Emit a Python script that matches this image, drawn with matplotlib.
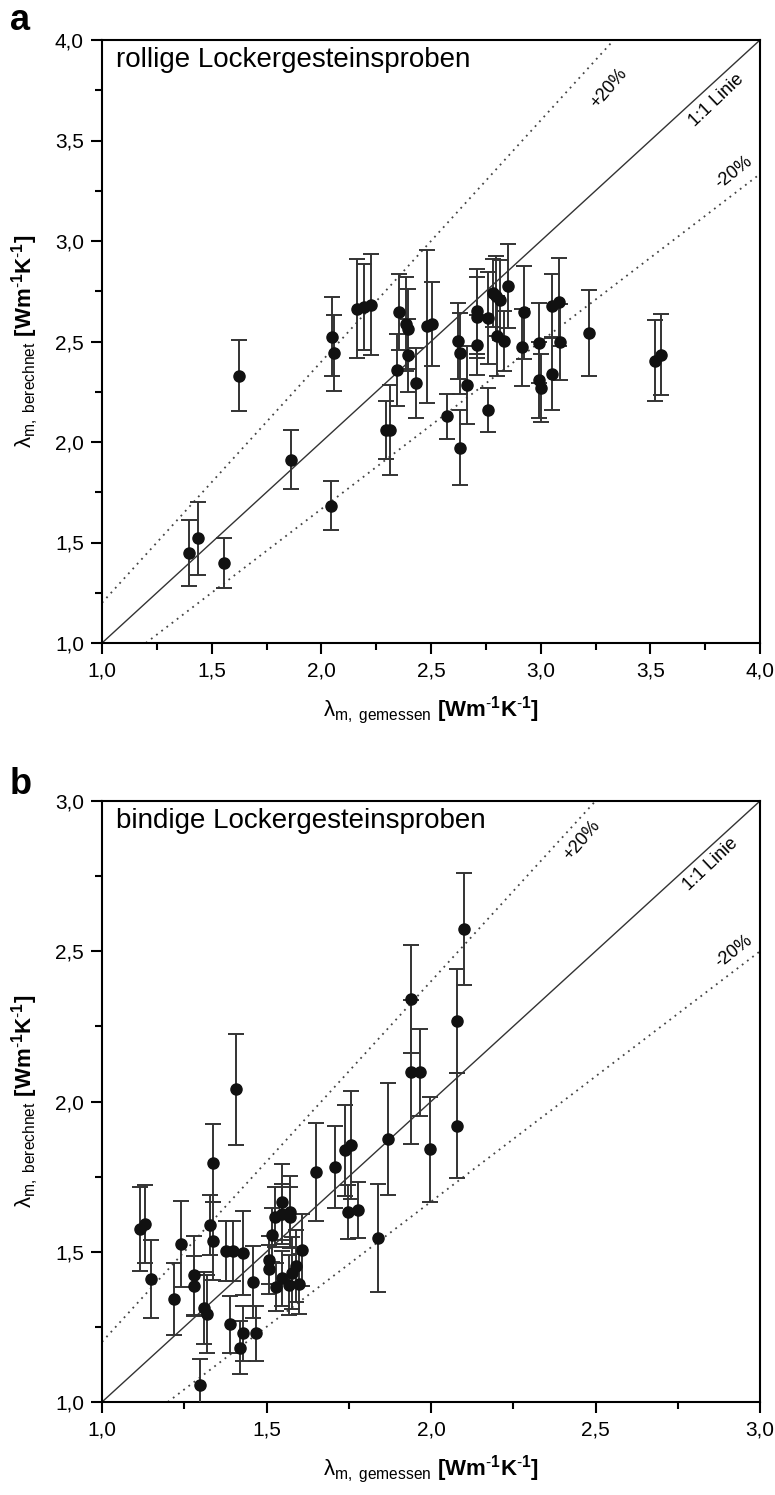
import matplotlib
matplotlib.use("Agg")
import numpy as np
import matplotlib.pyplot as plt
from matplotlib.ticker import FixedLocator, MultipleLocator

plt.rcParams['font.family'] = ['Liberation Sans', 'DejaVu Sans']
plt.rcParams['mathtext.fontset'] = 'custom'
plt.rcParams['mathtext.rm'] = 'Liberation Sans'
plt.rcParams['mathtext.it'] = 'Liberation Sans:italic'
plt.rcParams['mathtext.bf'] = 'Liberation Sans:bold'

# a: rollige Lockergesteinsproben (gemessen, berechnet, Fehler)
a_gem = [1.395, 1.436, 1.555, 1.624, 1.863, 2.044, 2.047, 2.056, 2.162, 2.193,
         2.225, 2.297, 2.315, 2.344, 2.353, 2.385, 2.394, 2.394, 2.433, 2.484,
         2.504, 2.571, 2.623, 2.632, 2.632, 2.662, 2.712, 2.712, 2.712, 2.762,
         2.762, 2.783, 2.798, 2.801, 2.813, 2.834, 2.852, 2.913, 2.922, 2.992,
         2.992, 3.001, 3.050, 3.050, 3.083, 3.090, 3.220, 3.520, 3.549]
a_ber = [1.447, 1.520, 1.398, 2.330, 1.912, 1.682, 2.523, 2.443, 2.663, 2.671,
         2.683, 2.059, 2.059, 2.359, 2.648, 2.587, 2.562, 2.431, 2.294, 2.575,
         2.587, 2.127, 2.504, 2.441, 1.972, 2.284, 2.650, 2.620, 2.484, 2.617,
         2.160, 2.741, 2.727, 2.526, 2.706, 2.504, 2.777, 2.471, 2.645, 2.493,
         2.307, 2.269, 2.678, 2.340, 2.696, 2.496, 2.542, 2.405, 2.435]
a_err = [0.165, 0.180, 0.125, 0.175, 0.147, 0.122, 0.197, 0.190, 0.245, 0.215,
         0.250, 0.145, 0.225, 0.180, 0.190, 0.235, 0.200, 0.180, 0.174, 0.380,
         0.210, 0.110, 0.190, 0.200, 0.185, 0.195, 0.210, 0.200, 0.150, 0.230,
         0.110, 0.170, 0.200, 0.200, 0.200, 0.150, 0.210, 0.190, 0.230, 0.200,
         0.190, 0.170, 0.160, 0.180, 0.220, 0.190, 0.215, 0.200, 0.200]

# b: bindige Lockergesteinsproben
b_gem = [1.117, 1.131, 1.148, 1.219, 1.240, 1.279, 1.279, 1.299, 1.310, 1.320,
         1.329, 1.338, 1.338, 1.377, 1.399, 1.389, 1.408, 1.418, 1.429, 1.430,
         1.458, 1.469, 1.509, 1.509, 1.518, 1.527, 1.528, 1.547, 1.547, 1.548,
         1.569, 1.571, 1.571, 1.579, 1.591, 1.599, 1.609, 1.649, 1.708, 1.738,
         1.758, 1.749, 1.778, 1.839, 1.869, 1.938, 1.938, 1.968, 1.998, 2.079,
         2.079, 2.100]
b_ber = [1.575, 1.591, 1.410, 1.342, 1.526, 1.421, 1.386, 1.057, 1.313, 1.292,
         1.589, 1.537, 1.796, 1.503, 1.503, 1.259, 2.041, 1.180, 1.497, 1.228,
         1.400, 1.228, 1.472, 1.441, 1.556, 1.617, 1.383, 1.665, 1.626, 1.411,
         1.389, 1.633, 1.617, 1.430, 1.453, 1.392, 1.506, 1.766, 1.782, 1.837,
         1.856, 1.632, 1.639, 1.545, 1.875, 2.341, 2.097, 2.097, 1.841, 2.267,
         1.920, 2.575]
b_err = [0.140, 0.130, 0.130, 0.120, 0.143, 0.130, 0.100, 0.085, 0.120, 0.130,
         0.100, 0.130, 0.130, 0.100, 0.100, 0.095, 0.185, 0.088, 0.140, 0.090,
         0.120, 0.090, 0.080, 0.080, 0.090, 0.100, 0.080, 0.127, 0.100, 0.090,
         0.100, 0.120, 0.100, 0.120, 0.120, 0.100, 0.120, 0.163, 0.136, 0.150,
         0.180, 0.090, 0.092, 0.180, 0.185, 0.180, 0.240, 0.145, 0.175, 0.173,
         0.175, 0.187]

a_ticks = [1.0, 1.5, 2.0, 2.5, 3.0, 3.5, 4.0]
b_ticks = [1.0, 1.5, 2.0, 2.5, 3.0]

xlab = 'λ$_{\\mathrm{m,\\ gemessen}}$ $\\mathbf{[Wm^{\\text{-}1}K^{\\text{-}1}]}$'
ylab = 'λ$_{\\mathrm{m,\\ berechnet}}$ $\\mathbf{[Wm^{\\text{-}1}K^{\\text{-}1}]}$'

fig = plt.figure(figsize=(7.75, 14.95), dpi=100)
ax_a = fig.add_axes([102/775, 1-643/1495, 658/775, 603/1495])
ax_b = fig.add_axes([102/775, 1-1402/1495, 658/775, 601/1495])


def panel(ax, gem, ber, err, ticks, title, pos):
    lo, hi = ticks[0], ticks[-1]
    ax.plot([lo, hi], [lo, hi], color='#333333', lw=1.0, zorder=1)
    ax.plot([lo, hi/1.2], [lo*1.2, hi], color='#444444', lw=1.3,
            ls=(0, (1, 2.6)), zorder=1)
    ax.plot([lo*1.2, hi], [lo, hi/1.2], color='#444444', lw=1.3,
            ls=(0, (1, 2.6)), zorder=1)
    ax.errorbar(gem, ber, yerr=err, fmt='o', color='#111111', ecolor='#333333',
                elinewidth=1.4, capsize=5.5, capthick=1.4, markersize=8,
                zorder=3)
    ax.set_xlim(lo, hi)
    ax.set_ylim(lo, hi)
    ax.xaxis.set_major_locator(FixedLocator(ticks))
    ax.yaxis.set_major_locator(FixedLocator(ticks))
    lbls = [('%.1f' % t).replace('.', ',') for t in ticks]
    ax.set_xticklabels(lbls)
    ax.set_yticklabels(lbls)
    ax.xaxis.set_minor_locator(MultipleLocator(0.25))
    ax.yaxis.set_minor_locator(MultipleLocator(0.25))
    ax.tick_params(which='major', direction='out', length=8, width=1.5,
                   labelsize=15, pad=5)
    ax.tick_params(which='minor', direction='out', length=5, width=1.5)
    for s in ax.spines.values():
        s.set_linewidth(1.5)
    ax.set_xlabel(xlab, fontsize=16, labelpad=10)
    ax.set_ylabel(ylab, fontsize=16, labelpad=10)
    ax.text(0.022, 0.955, title, transform=ax.transAxes, fontsize=20,
            ha='left', va='baseline')
    for (tx, ty, txt, ang) in pos:
        ax.text(tx, ty, txt, fontsize=13, ha='center', va='center',
                rotation=ang, rotation_mode='anchor',
                transform_rotates_text=True, transform=ax.transData)


panel(ax_a, a_gem, a_ber, a_err, a_ticks, 'rollige Lockergesteinsproben',
      [(3.31, 3.76, '+20%', 52), (3.80, 3.70, '1:1 Linie', 46),
       (3.88, 3.34, '-20%', 41)])
panel(ax_b, b_gem, b_ber, b_err, b_ticks, 'bindige Lockergesteinsproben',
      [(2.46, 2.87, '+20%', 52), (2.85, 2.79, '1:1 Linie', 46),
       (2.92, 2.50, '-20%', 41)])

fig.text(10/775, 1-20/1495, 'a', fontsize=26, fontweight='bold', va='center')
fig.text(10/775, 1-785/1495, 'b', fontsize=26, fontweight='bold', va='center')

fig.savefig('out.png', dpi=100)
